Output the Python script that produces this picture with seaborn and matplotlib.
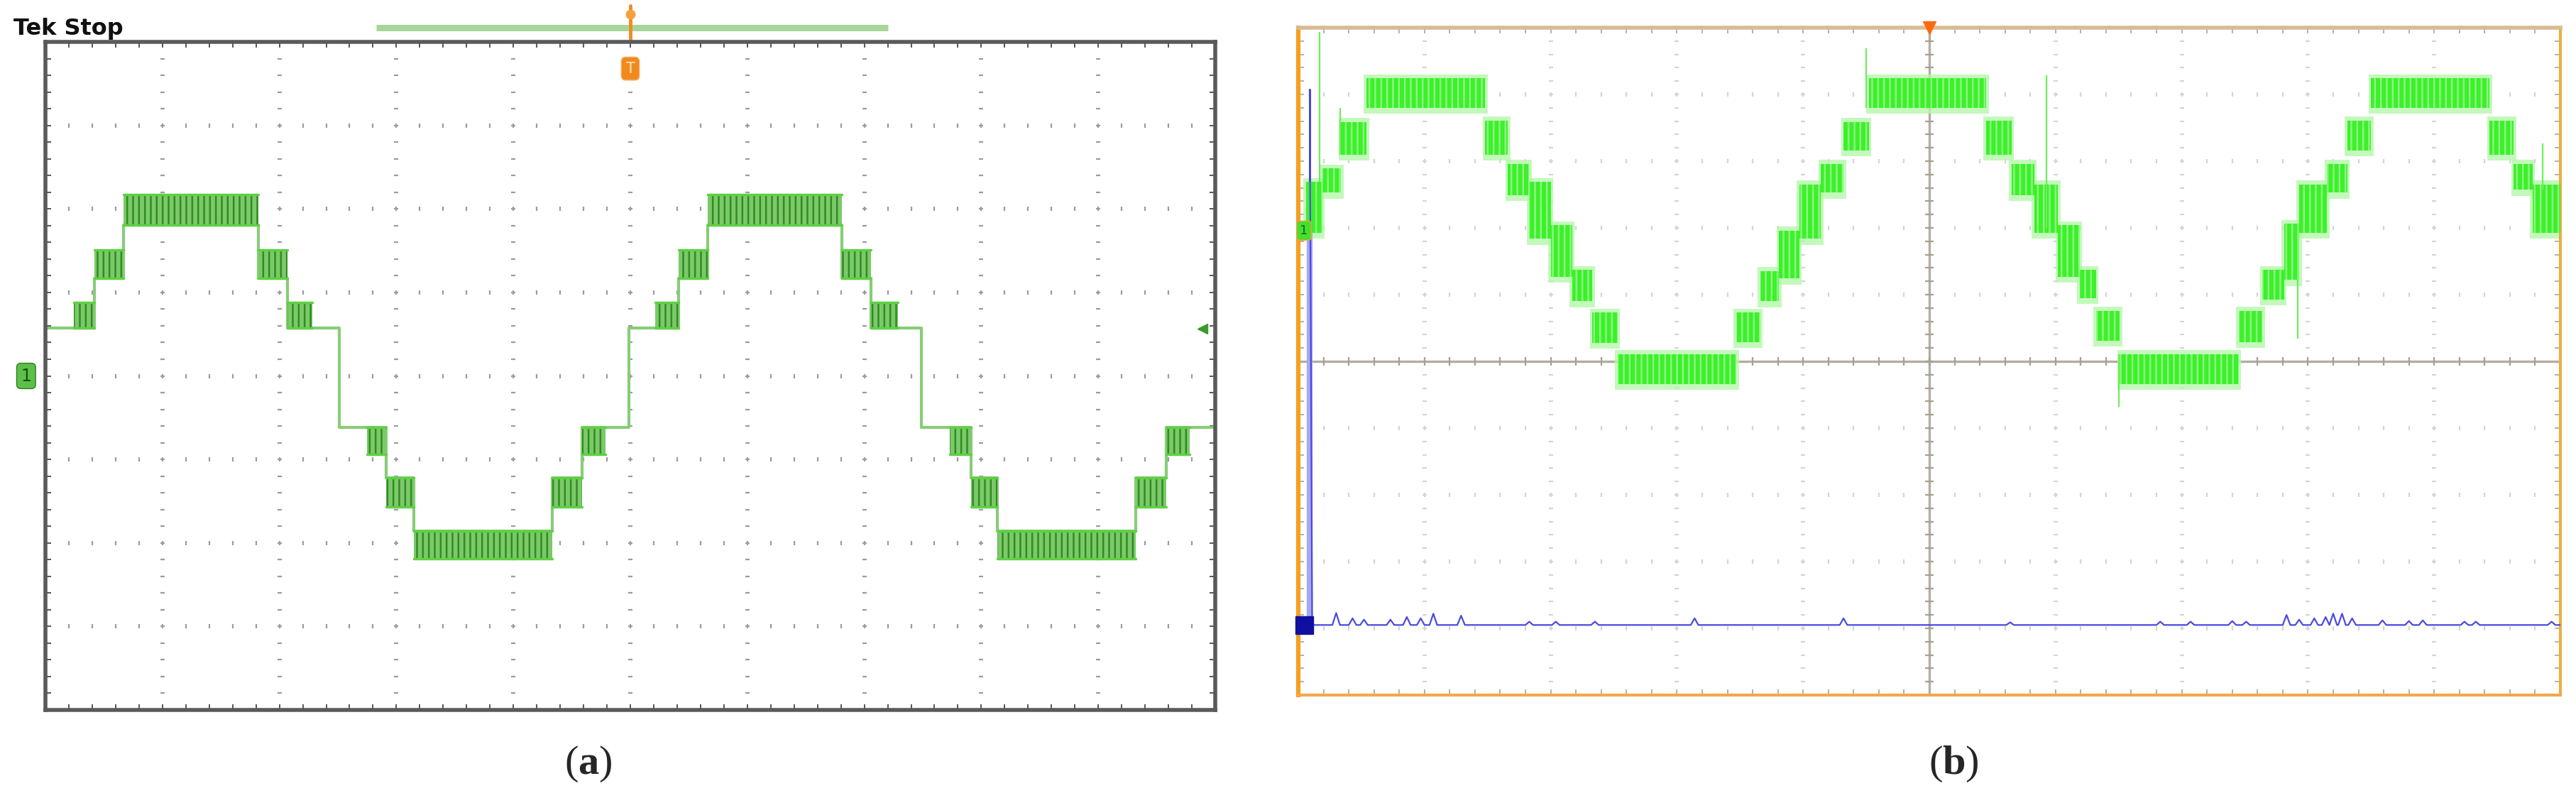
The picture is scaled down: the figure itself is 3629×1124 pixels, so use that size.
import numpy as np
import seaborn as sns
import matplotlib.pyplot as plt

sns.set_style('white')
plt.rcParams['font.family'] = ['DejaVu Sans']
plt.rcParams['hatch.linewidth'] = 1.8
plt.rcParams['mathtext.fontset'] = 'custom'
plt.rcParams['mathtext.rm'] = 'Liberation Serif'
plt.rcParams['mathtext.bf'] = 'Liberation Serif:bold'

# ---- panel (a): staircase inverter output (screen divisions, x 0..10, y -4..4)
a_start = [0.0, 0.24, 0.42, 0.67, 1.82, 2.07, 2.28, 2.51, 2.75, 2.91, 3.15, 4.33, 4.59, 4.79,
           4.99, 5.21, 5.41, 5.66, 6.81, 7.06, 7.29, 7.49, 7.73, 7.91, 8.14, 9.32, 9.58, 9.78]
a_inner = [0.57, 0.57, 1.17, 1.81, 1.17, 0.57, 0.57, -0.62, -0.62, -1.22, -1.86, -1.22, -0.62, -0.62,
           0.57, 0.57, 1.17, 1.81, 1.17, 0.57, 0.57, -0.62, -0.62, -1.22, -1.86, -1.22, -0.62, -0.62]
a_outer = [0.57, 0.88, 1.51, 2.17, 1.51, 0.88, 0.57, -0.62, -0.94, -1.57, -2.19, -1.57, -0.94, -0.62,
           0.57, 0.88, 1.51, 2.17, 1.51, 0.88, 0.57, -0.62, -0.94, -1.57, -2.19, -1.57, -0.94, -0.62]
a_trig_level = 0.565

# ---- panel (b): noisy staircase (green) and current channel (blue), y -5..5
b_x0 = [0.06, 0.19, 0.34, 0.54, 1.48, 1.66, 1.83, 2.00, 2.17, 2.33, 2.53, 3.47, 3.66, 3.81, 3.97,
        4.14, 4.32, 4.52, 5.45, 5.65, 5.83, 6.02, 6.19, 6.32, 6.51, 7.45, 7.64, 7.81, 7.93,
        8.15, 8.31, 8.50, 9.44, 9.63, 9.78]
b_top = [2.69, 2.89, 3.59, 4.24, 3.61, 2.96, 2.69, 2.04, 1.37, 0.73, 0.11, 0.73, 1.35, 1.96, 2.65,
         2.96, 3.59, 4.24, 3.61, 2.96, 2.65, 2.04, 1.37, 0.76, 0.11, 0.76, 1.37, 2.06, 2.65,
         2.96, 3.61, 4.24, 3.61, 2.96, 2.65]
b_bot = [1.93, 2.53, 3.10, 3.80, 3.10, 2.49, 1.84, 1.27, 0.90, 0.28, -0.34, 0.29, 0.90, 1.24, 1.84,
         2.53, 3.16, 3.80, 3.10, 2.49, 1.93, 1.27, 0.95, 0.31, -0.34, 0.29, 0.93, 1.22, 1.93,
         2.53, 3.16, 3.80, 3.10, 2.57, 1.93]
b_spike_x = [0.17, 0.33, 4.50, 5.93, 6.50, 7.92, 9.86]
b_spike_lo = [2.69, 3.10, 3.80, 2.00, -0.68, 0.34, 2.57]
b_spike_hi = [4.94, 3.80, 4.69, 4.29, 0.11, 1.22, 3.27]
b_green_ref = 1.96

blue_base = -3.95
blue_spike_top = 4.07
blue_bump_x = [0.30, 0.43, 0.52, 0.73, 0.86, 0.97, 1.07, 1.29, 1.83, 2.04, 2.35, 3.14, 4.32,
               5.64, 6.83, 7.07, 7.40, 7.51, 7.83, 7.93, 8.05, 8.14, 8.20, 8.27, 8.35, 8.59,
               8.80, 8.91, 9.24, 9.33, 9.93]
blue_bump_h = [0.18, 0.10, 0.08, 0.08, 0.12, 0.10, 0.17, 0.14, 0.05, 0.05, 0.05, 0.10, 0.10,
               0.04, 0.05, 0.05, 0.06, 0.05, 0.15, 0.08, 0.10, 0.12, 0.17, 0.17, 0.10, 0.07,
               0.06, 0.07, 0.05, 0.05, 0.05]

W, H = 3630, 1124
fig = plt.figure(figsize=(W / 100, H / 100), dpi=100)
fig.patch.set_facecolor('white')
axa = fig.add_axes([64 / W, 1 - 1000 / H, 1648 / W, 941 / H])
axb = fig.add_axes([1829 / W, 1 - 979 / H, 1778 / W, 940 / H])


def graticule(ax, ny, col, ms):
    fine_x = np.arange(0, 10.01, 0.2)
    fine_y = np.arange(-ny, ny + 0.01, 0.2)
    for gy in range(-ny + 1, ny):
        ax.plot(fine_x, np.full(len(fine_x), gy), ls='none', marker='|', ms=ms,
                mew=1.6, color=col, zorder=1)
    for gx in range(1, 10):
        ax.plot(np.full(len(fine_y), gx), fine_y, ls='none', marker='_', ms=ms,
                mew=1.6, color=col, zorder=1)
    ax.set_xlim(0, 10)
    ax.set_ylim(-ny, ny)
    ax.set_xticks(range(11))
    ax.set_xticks(np.arange(0, 10.01, 0.2), minor=True)
    ax.set_yticks(range(-ny, ny + 1))
    ax.set_yticks(np.arange(-ny, ny + 0.01, 0.2), minor=True)
    ax.tick_params(which='both', direction='in', top=True, right=True, left=True, bottom=True,
                   labelleft=False, labelbottom=False, length=6, width=1.4, color=col)
    ax.set(xlabel='', ylabel='')


# ---------------- panel (a)
graticule(axa, 4, '#9c9c9c', 5)
for s in axa.spines.values():
    s.set_color('#5a5a5a')
    s.set_linewidth(4)
axa.tick_params(which='both', color='#555555')

a_end = a_start[1:] + [10.0]
for x0, x1, lo, hi in zip(a_start, a_end, a_inner, a_outer):
    if lo != hi:
        axa.fill_between([x0, x1], lo, hi, facecolor='#7cc96a', edgecolor='#2f8c22',
                         hatch='||', linewidth=0, zorder=3)
        axa.plot([x0, x1], [hi, hi], color='#5fd044', lw=2.5, zorder=4)
        axa.plot([x0, x1], [lo, lo], color='#5fd044', lw=2.5, zorder=4)

sns.lineplot(x=a_start + [10.0], y=a_inner + [a_inner[-1]], ax=axa, drawstyle='steps-post',
             color='#88cc78', lw=3, zorder=2)
axa.set(xlabel='', ylabel='')

# scope annotations
axa.plot([2.83, 7.2], [4.17, 4.17], color='#a8d69a', lw=6.5, solid_capstyle='butt',
         clip_on=False)
axa.plot([5, 5], [4.0, 4.43], color='#f08a20', lw=3.5, clip_on=False)
axa.plot(5, 4.33, marker='o', ms=9, color='#f5a040', clip_on=False)
axa.text(5.0, 3.68, 'T', ha='center', va='center', fontsize=15, color='#ffe2b8',
         bbox=dict(boxstyle='round,pad=0.3', fc='#f08a20', ec='#f5b060'))
axa.plot(9.89, a_trig_level, marker='<', ms=10, color='#3a9a2a', zorder=5)
axa.text(-0.165, 0.0, '1', ha='center', va='center', fontsize=17, color='#1b4d12',
         bbox=dict(boxstyle='round,pad=0.25', fc='#5cc048', ec='#2e7d22'), clip_on=False)
fig.text(19 / W, 1 - 40 / H, 'Tek Stop', fontsize=23, fontweight='bold', va='center',
         ha='left', color='#111111')

# ---------------- panel (b)
graticule(axb, 5, '#d4d4d4', 5)
axb.tick_params(which='both', color='#b8b0a4')
axb.axhline(0, color='#b4aca0', lw=2.4, zorder=1)
axb.axvline(5, color='#b4aca0', lw=2.4, zorder=1)
fine = np.arange(0, 10.01, 0.2)
axb.plot(fine, np.zeros(len(fine)), ls='none', marker='|', ms=9, mew=1.6, color='#a8a096', zorder=1)
fine_v = np.arange(-5, 5.01, 0.2)
axb.plot(np.full(len(fine_v), 5.0), fine_v, ls='none', marker='_', ms=9, mew=1.6,
         color='#a8a096', zorder=1)

spine_cols = {'left': ('#f5a020', 4.5), 'top': ('#d8bc94', 4), 'bottom': ('#f0a850', 3),
              'right': ('#e8b040', 3)}
for k, (c, lw) in spine_cols.items():
    axb.spines[k].set_color(c)
    axb.spines[k].set_linewidth(lw)

b_x1 = b_x0[1:] + [10.0]
for x0, x1, top, bot in zip(b_x0, b_x1, b_top, b_bot):
    # soft halo of the noisy band, then the band itself
    axb.fill_between([x0 - 0.02, x1 + 0.02], bot - 0.09, top + 0.06, facecolor='#b4f8aa',
                     linewidth=0, alpha=0.8, zorder=2)
    axb.fill_between([x0, x1], bot, top, facecolor='#3cf02a', edgecolor='#8cf680',
                     hatch='||', linewidth=0, zorder=3)
axb.vlines(b_spike_x, b_spike_lo, b_spike_hi, color='#6cee5c', lw=1.6, zorder=3)

# blue channel
axb.plot([0.09, 0.09], [blue_base, 1.9], color='#a8a8f0', lw=6, zorder=2)
axb.plot([0.09, 0.09], [1.9, blue_spike_top], color='#2a2ab8', lw=2, zorder=2)
blue_x = [0.09, 0.11]
blue_y = [blue_spike_top, blue_base]
for c, h in zip(blue_bump_x, blue_bump_h):
    blue_x += [c - 0.03, c, c + 0.03]
    blue_y += [blue_base, blue_base + h, blue_base]
blue_x.append(10.0)
blue_y.append(blue_base)
sns.lineplot(x=blue_x, y=blue_y, ax=axb, color='#4a4ae0', lw=1.6, zorder=4)
axb.set(xlabel='', ylabel='')

axb.plot(0.045, blue_base, marker='s', ms=18, color='#1010a0', clip_on=False, zorder=6)
axb.text(0.045, b_green_ref, '1', ha='center', va='center', fontsize=13, color='#1a6a10',
         bbox=dict(boxstyle='round,pad=0.25', fc='#44e030', ec='#f0a040'), clip_on=False,
         zorder=6)
axb.plot(5, 5.0, marker='v', ms=13, color='#ff6a10', clip_on=False, zorder=6)

# captions
fig.text(829 / W, 1 - 1076 / H, r'($\mathbf{a}$)', ha='center', va='center', fontsize=42,
         family='Liberation Serif')
fig.text(2752 / W, 1 - 1076 / H, r'($\mathbf{b}$)', ha='center', va='center', fontsize=42,
         family='Liberation Serif')

fig.savefig('out.png', dpi=100, facecolor='white')
